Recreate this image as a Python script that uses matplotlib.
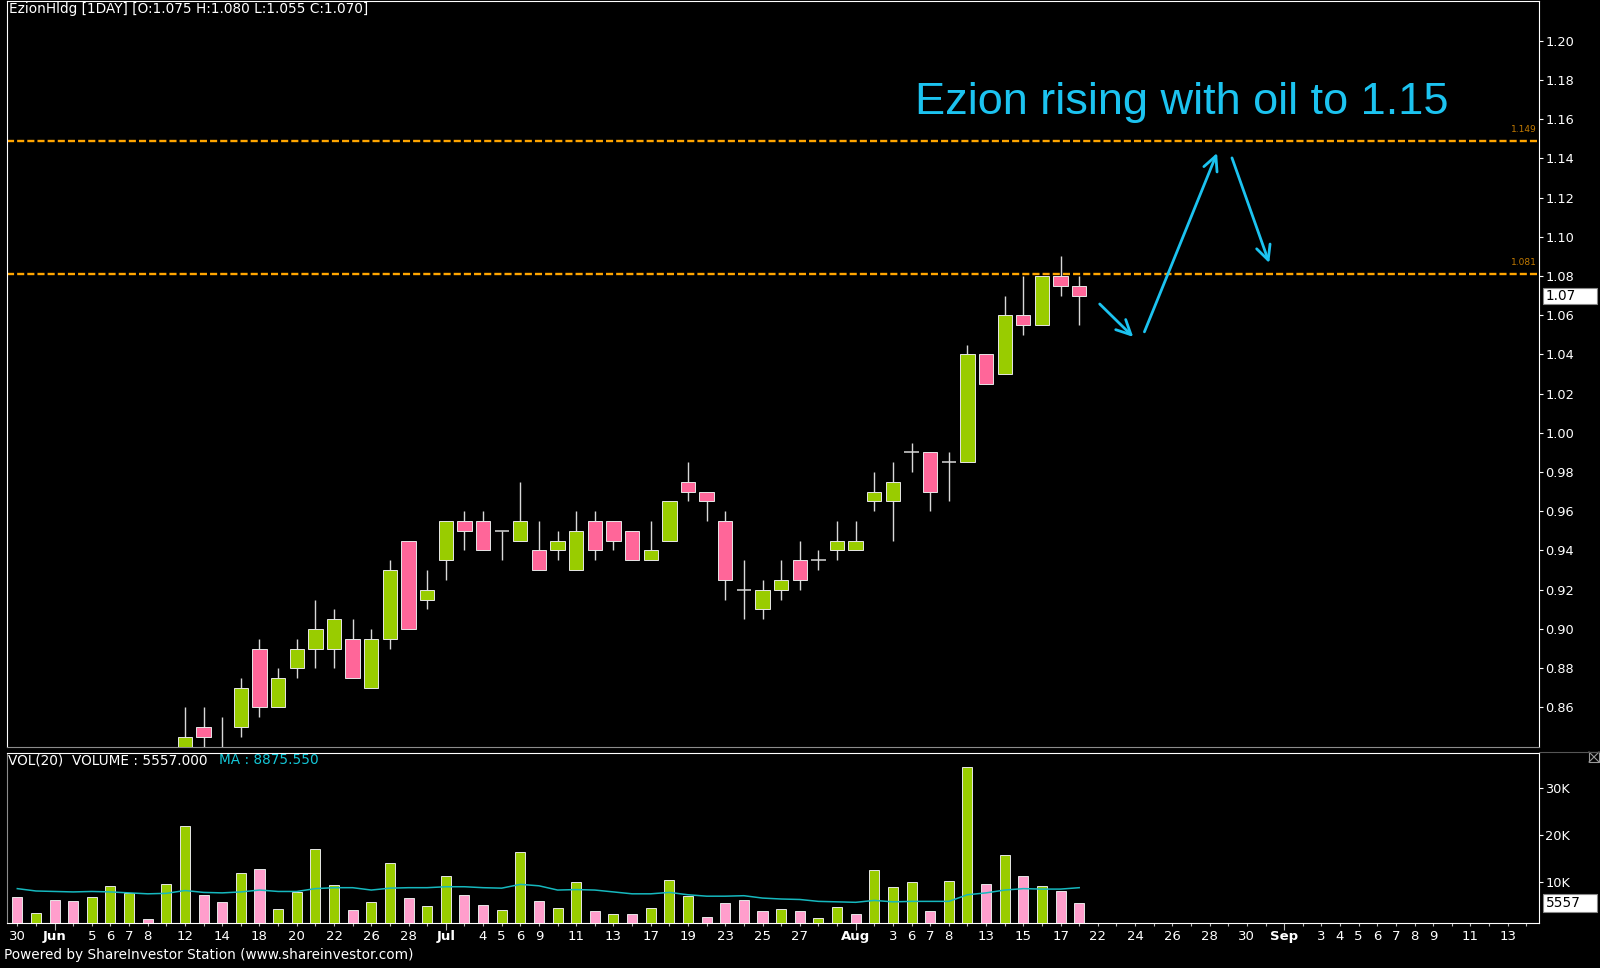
"""EzionHldg daily candles (May-Aug 2012) with volume pane, redrawn in the
ShareInvestor Station dark style, plus the 'rising with oil' annotation."""
import matplotlib
matplotlib.use("Agg")
import matplotlib.pyplot as plt
import matplotlib.transforms as mtransforms
from matplotlib.lines import Line2D
from matplotlib.patches import Rectangle
import numpy as np

NAN = float("nan")

# one entry per trading slot, 30 May .. 21 Aug; first nine candles sit below the visible range
opens = [NAN, NAN, NAN, NAN, NAN, NAN, NAN, NAN, NAN,
         0.830, 0.850, 0.835, 0.850, 0.890, 0.860, 0.880, 0.890, 0.890, 0.895, 0.870,
         0.895, 0.945, 0.915, 0.935, 0.955, 0.955, 0.950, 0.945, 0.940, 0.940,
         0.930, 0.955, 0.955, 0.950, 0.935, 0.945, 0.975, 0.970, 0.955, 0.920,
         0.910, 0.920, 0.935, 0.935, 0.940, 0.940, 0.965, 0.965, 0.990, 0.990,
         0.985, 0.985, 1.040, 1.030, 1.060, 1.055, 1.080, 1.075]
highs = [NAN, NAN, NAN, NAN, NAN, NAN, NAN, NAN, NAN,
         0.860, 0.860, 0.855, 0.875, 0.895, 0.880, 0.895, 0.915, 0.910, 0.905, 0.900,
         0.935, 0.945, 0.930, 0.955, 0.960, 0.960, 0.950, 0.975, 0.955, 0.950,
         0.960, 0.960, 0.955, 0.950, 0.955, 0.965, 0.985, 0.970, 0.960, 0.935,
         0.925, 0.935, 0.945, 0.940, 0.955, 0.955, 0.980, 0.985, 0.995, 0.990,
         0.990, 1.045, 1.040, 1.070, 1.080, 1.080, 1.090, 1.080]
lows = [NAN, NAN, NAN, NAN, NAN, NAN, NAN, NAN, NAN,
        0.825, 0.840, 0.830, 0.845, 0.855, 0.860, 0.875, 0.880, 0.880, 0.875, 0.870,
        0.890, 0.900, 0.910, 0.925, 0.940, 0.940, 0.935, 0.945, 0.930, 0.935,
        0.930, 0.935, 0.940, 0.935, 0.935, 0.945, 0.965, 0.955, 0.915, 0.905,
        0.905, 0.915, 0.920, 0.930, 0.935, 0.940, 0.960, 0.945, 0.980, 0.960,
        0.965, 0.985, 1.025, 1.030, 1.050, 1.055, 1.070, 1.055]
closes = [NAN, NAN, NAN, NAN, NAN, NAN, NAN, NAN, NAN,
          0.845, 0.845, 0.830, 0.870, 0.860, 0.875, 0.890, 0.900, 0.905, 0.875, 0.895,
          0.930, 0.900, 0.920, 0.955, 0.950, 0.940, 0.950, 0.955, 0.930, 0.945,
          0.950, 0.940, 0.945, 0.935, 0.940, 0.965, 0.970, 0.965, 0.925, 0.920,
          0.920, 0.925, 0.925, 0.935, 0.945, 0.945, 0.970, 0.975, 0.990, 0.970,
          0.985, 1.040, 1.025, 1.060, 1.055, 1.080, 1.075, 1.070]

# volume in thousands of lots, g = up day, p = down day
volume_k = [6.9, 3.6, 6.3, 6.1, 6.9, 9.3, 7.8, 2.2, 9.7, 22.0,
            7.3, 5.9, 12.1, 12.8, 4.4, 7.9, 17.1, 9.5, 4.1, 5.8,
            14.2, 6.8, 5.0, 11.3, 7.4, 5.2, 4.2, 16.5, 6.1, 4.5,
            10.0, 3.9, 3.4, 3.4, 4.6, 10.6, 7.2, 2.6, 5.7, 6.3,
            3.9, 4.4, 3.9, 2.4, 4.8, 3.3, 12.7, 9.0, 10.0, 3.9,
            10.3, 34.5, 9.7, 15.9, 11.3, 9.3, 8.1, 5.557]
volume_dir = ("pgppgggpgg"
              "ppgpggggpg"
              "gpggppggpg"
              "gpgpgggppp"
              "pgpggpgggp"
              "ggpgpgpp")
volume_ma_k = [8.7, 8.2, 8.1, 8.0, 8.1, 8.0, 7.8, 7.6, 7.7, 8.3,
               7.9, 7.8, 8.0, 8.4, 8.1, 8.1, 8.7, 8.9, 8.9, 8.4,
               8.8, 8.9, 8.9, 9.1, 9.1, 8.9, 8.8, 9.6, 9.3, 8.4,
               8.5, 8.4, 8.0, 7.6, 7.6, 7.9, 7.4, 7.1, 7.1, 7.2,
               6.7, 6.5, 6.4, 6.0, 5.9, 5.8, 6.2, 5.9, 6.0, 6.0,
               6.0, 7.4, 7.8, 8.4, 8.7, 8.6, 8.6, 8.9]

tick_slots = [0, 2, 4, 5, 6, 7, 9, 11, 13, 15, 17, 19, 21, 23, 25, 26, 27, 28,
              30, 32, 34, 36, 38, 40, 42, 45, 47, 48, 49, 50, 52, 54, 56, 58,
              60, 62, 64, 66, 68, 70, 71, 72, 73, 74, 75, 76, 78, 80]
tick_labels = ["30", "Jun", "5", "6", "7", "8", "12", "14", "18", "20", "22", "26", "28",
               "Jul", "4", "5", "6", "9", "11", "13", "17", "19", "23", "25", "27",
               "Aug", "3", "6", "7", "8", "13", "15", "17", "22", "24", "26", "28", "30",
               "Sep", "3", "4", "5", "6", "7", "8", "9", "11", "13"]
MONTHS = {"Jun", "Jul", "Aug", "Sep"}

price_ticks = [0.86, 0.88, 0.90, 0.92, 0.94, 0.96, 0.98, 1.00, 1.02, 1.04,
               1.06, 1.08, 1.10, 1.12, 1.14, 1.16, 1.18, 1.20]
levels = [1.149, 1.081]
last_price = 1.07
last_volume_k = 5.557

# annotation: note text and three hand-drawn arrows (slot, price)
note_text = "Ezion rising with oil to 1.15"
note_at = (48.2, 1.1626)
arrows = [((58.1, 1.0657), (59.9, 1.0489)),
          ((60.5, 1.0515), (64.4, 1.1427)),
          ((65.2, 1.1402), (67.2, 1.0866))]

W, H = 1600, 968
GREEN = "#99CC00"
PINK = "#FF6699"
VOL_PINK = "#FF9ECC"
WICK = "#D8D8D8"
EDGE = "#E6E6E6"
ORANGE = "#FFA500"
LEVEL_TXT = "#C27A00"
CYAN = "#1CC3F0"
MA_COLOR = "#16B8BE"
BODY_W = 0.77
VOL_W = 0.54
SMALL = 9.8


def fx(px):
    return px / W


def fy(py):
    return 1 - py / H


def draw_candles(ax):
    for x, o, h, l, c in zip(range(len(opens)), opens, highs, lows, closes):
        if np.isnan(o):
            continue
        ax.vlines(x, l, h, color=WICK, lw=1.0, zorder=3)
        if o == c:
            ax.hlines(o, x - BODY_W / 2, x + BODY_W / 2, color=WICK, lw=1.1, zorder=4)
        else:
            ax.bar(x, abs(c - o), bottom=min(o, c), width=BODY_W,
                   color=GREEN if c > o else PINK, edgecolor=EDGE, lw=0.7, zorder=4)


def setup_price(fig):
    ax = fig.add_axes([fx(7), fy(747), fx(1539 - 7), (747 - 1) / H])
    ax.set_facecolor("black")
    for side in ("top", "right", "left"):
        ax.spines[side].set_color("white")
    ax.spines["bottom"].set_color("#8C8C8C")
    ax.set_xlim(-0.553, 81.68)
    ax.set_ylim(0.8398, 1.2202)
    ax.set_xticks([])
    ax.yaxis.tick_right()
    ax.set_yticks(price_ticks, [f"{v:.2f}" for v in price_ticks])
    ax.tick_params(axis="y", colors="white", labelcolor="white", length=3,
                   width=0.8, pad=1.5, labelsize=9.3)
    return ax


def setup_volume(fig):
    ax = fig.add_axes([fx(7), fy(922.7), fx(1539 - 7), (922.7 - 753) / H])
    ax.set_facecolor("black")
    for side in ("top", "right", "bottom"):
        ax.spines[side].set_color("white")
    ax.spines["left"].set_color("#8C8C8C")
    ax.set_xlim(-0.553, 81.68)
    ax.set_ylim(1.48, 37.44)
    ax.yaxis.tick_right()
    ax.set_yticks([10, 20, 30], ["10K", "20K", "30K"])
    ax.tick_params(axis="y", colors="white", length=3, width=0.8, pad=1.5, labelsize=9.3)
    ax.set_xticks(range(0, 82), minor=True)
    ax.set_xticks(tick_slots, tick_labels)
    ax.tick_params(axis="x", which="both", colors="#BBBBBB", labelcolor="white",
                   length=2.5, width=0.8, pad=2.5, labelsize=9.5)
    for tick, lab in zip(ax.xaxis.get_major_ticks(), tick_labels):
        if lab in MONTHS:
            tick.tick1line.set_markersize(5)
            tick.label1.set_fontweight("bold")
    return ax


def value_box(fig, ax, value, text, half_h):
    trans = mtransforms.blended_transform_factory(fig.transFigure, ax.transData)
    ax.add_patch(Rectangle((fx(1543), value - half_h), fx(54), 2 * half_h, transform=trans,
                           facecolor="white", edgecolor="#888888", lw=0.8, clip_on=False))
    ax.text(fx(1546), value, text, transform=trans, color="black", fontsize=9.8,
            va="center", ha="left", clip_on=False)


def main():
    fig = plt.figure(figsize=(W / 100, H / 100), dpi=100, facecolor="black")
    ax = setup_price(fig)
    axv = setup_volume(fig)

    for lvl in levels:
        ax.axhline(lvl, color=ORANGE, lw=1.7, dashes=(3, 1.3), zorder=2)
        ax.text(0.9985, lvl + 0.0035, f"{lvl:.3f}",
                transform=mtransforms.blended_transform_factory(ax.transAxes, ax.transData),
                color=LEVEL_TXT, fontsize=6.5, ha="right", va="bottom")

    draw_candles(ax)

    ax.text(*note_at, note_text, color=CYAN, fontsize=32.5, family="Liberation Sans",
            ha="left", va="baseline", zorder=6)
    for start, end in arrows:
        ax.annotate("", xy=end, xytext=start, zorder=6,
                    arrowprops=dict(arrowstyle="->,head_length=0.65,head_width=0.32",
                                    color=CYAN, lw=2.0, mutation_scale=16,
                                    shrinkA=0, shrinkB=0))

    value_box(fig, ax, last_price, f"{last_price:.2f}", 0.0041)

    slots = np.arange(len(volume_k))
    colours = [GREEN if d == "g" else VOL_PINK for d in volume_dir]
    axv.bar(slots, volume_k, width=VOL_W, bottom=0, color=colours,
            edgecolor=EDGE, lw=0.7, zorder=3)
    axv.plot(slots, volume_ma_k, color=MA_COLOR, lw=1.1, zorder=4)
    value_box(fig, axv, last_volume_k, f"{round(last_volume_k * 1000)}", 1.9)

    fig.text(fx(9), fy(9), "EzionHldg [1DAY] [O:1.075 H:1.080 L:1.055 C:1.070]",
             color="white", fontsize=SMALL, va="center")
    fig.text(fx(8), fy(760), "VOL(20)  VOLUME : 5557.000", color="white",
             fontsize=SMALL, va="center")
    fig.text(fx(219), fy(760), "MA : 8875.550", color="#14C8D8", fontsize=SMALL,
             va="center")
    fig.text(fx(4), fy(955), "Powered by ShareInvestor Station (www.shareinvestor.com)",
             color="white", fontsize=SMALL, va="center")

    # little close box top right of volume pane
    fig.add_artist(Rectangle((fx(1589), fy(762)), fx(10), 10 / H, transform=fig.transFigure,
                             fill=False, edgecolor="#9A9A9A", lw=0.8))
    for xs, ys in (((1589, 1599), (752, 762)), ((1589, 1599), (762, 752))):
        fig.add_artist(Line2D([fx(v) for v in xs], [fy(v) for v in ys],
                              transform=fig.transFigure, color="#9A9A9A", lw=0.8))
    fig.add_artist(Line2D([fx(1539), fx(1600)], [fy(752), fy(752)],
                          transform=fig.transFigure, color="#555555", lw=0.8))

    fig.savefig("out.png", dpi=100, facecolor="black")
    plt.close(fig)


if __name__ == "__main__":
    main()
